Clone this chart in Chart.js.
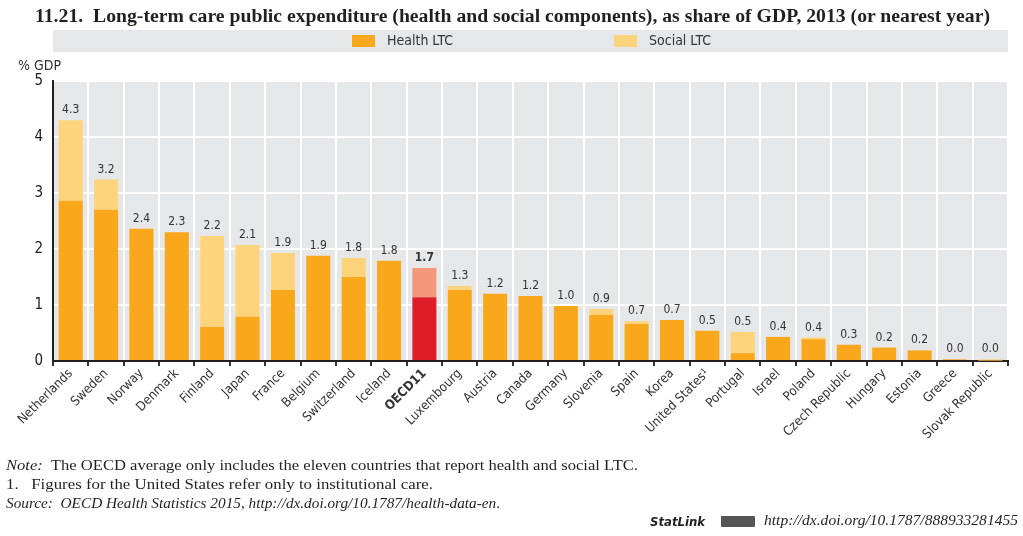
<!DOCTYPE html>
<html><head><meta charset="utf-8">
<script src="https://cdn.jsdelivr.net/npm/chart.js@4/dist/chart.umd.min.js"></script>
<style>
html,body{margin:0;padding:0;background:#fff;}
body{width:1023px;height:536px;position:relative;overflow:hidden;}
#c{position:absolute;left:0;top:0;}
.t{position:absolute;white-space:nowrap;color:#231f20;transform-origin:0 50%;}
#title{left:35px;top:6px;font:bold 18px "Liberation Serif","DejaVu Serif",serif;}
#band{position:absolute;left:53px;top:30px;width:955px;height:22px;background:#e6e7e8;}
.lb{position:absolute;top:35px;width:23px;height:12px;}
.lt{top:32px;font:14px "Liberation Sans Narrow","DejaVu Sans Condensed",sans-serif;color:#333;}
.cond{font-family:"Liberation Sans Narrow","DejaVu Sans Condensed",sans-serif;}
.foot{font:15px "Liberation Serif","DejaVu Serif",serif;left:6px;}
</style></head><body>
<canvas id="c" width="1023" height="536"></canvas>
<div class="t" id="title" data-w="955">11.21.&nbsp; Long-term care public expenditure (health and social components), as share of GDP, 2013 (or nearest year)</div>
<div id="band"></div>
<div class="lb" style="left:352px;background:#f9a71b"></div>
<div class="t lt" style="left:387px">Health LTC</div>
<div class="lb" style="left:614px;background:#fdd47c"></div>
<div class="t lt" style="left:649px">Social LTC</div>
<div class="t cond" style="left:18px;top:57px;font-size:14px;color:#333">% GDP</div>
<div class="t foot" style="top:457px" data-w="632"><i>Note:</i>&nbsp; The OECD average only includes the eleven countries that report health and social LTC.</div>
<div class="t foot" style="top:476px" data-w="427">1.&nbsp;&nbsp; Figures for the United States refer only to institutional care.</div>
<div class="t foot" style="top:495px" data-w="494"><i>Source:</i>&nbsp; <i>OECD Health Statistics 2015</i>, <i>http://dx.doi.org/10.1787/health-data-en</i>.</div>
<div class="t" style="left:650px;top:514px;font:bold italic 13px 'DejaVu Sans Condensed',sans-serif">StatLink</div>
<div style="position:absolute;left:721px;top:516px;width:34px;height:11px;background:#555;border-radius:1px"></div>
<div class="t foot" style="left:764px;top:512px" data-w="254"><i>http://dx.doi.org/10.1787/888933281455</i></div>
<script>
const categories = ["Netherlands","Sweden","Norway","Denmark","Finland","Japan","France","Belgium","Switzerland","Iceland","OECD11","Luxembourg","Austria","Canada","Germany","Slovenia","Spain","Korea","United States\u00b9","Portugal","Israel","Poland","Czech Republic","Hungary","Estonia","Greece","Slovak Republic"];
const healthLTC = [2.86,2.70,2.36,2.30,0.61,0.79,1.27,1.88,1.50,1.79,1.14,1.27,1.20,1.16,0.98,0.82,0.66,0.73,0.54,0.14,0.43,0.39,0.29,0.24,0.19,0.03,0.01];
const socialLTC = [1.44,0.54,0,0,1.62,1.28,0.66,0,0.34,0,0.52,0.07,0,0,0,0.11,0.05,0,0,0.38,0,0.03,0,0,0,0,0.02];
const yTicks = [0,1,2,3,4,5];

const HEALTH='#f9a71b', SOCIAL='#fdd47c', OECD_H='#de1e26', OECD_S='#f4987b';
const isO = i => categories[i]==='OECD11';

// fit text widths horizontally
document.querySelectorAll('[data-w]').forEach(el=>{
  const target=+el.dataset.w; const w=el.getBoundingClientRect().width;
  el.style.transform='scaleX('+(target/w)+')';
});

const labelPlugin={id:'vals',afterDatasetsDraw(chart){
  const ctx=chart.ctx; const m0=chart.getDatasetMeta(0), m1=chart.getDatasetMeta(1);
  ctx.save(); ctx.textAlign='center'; ctx.textBaseline='middle'; ctx.fillStyle='#333';
  categories.forEach((c,i)=>{
    const top=Math.min(m0.data[i].y,m1.data[i].y);
    const v=(healthLTC[i]+socialLTC[i]).toFixed(1);
    ctx.font=(isO(i)?'bold ':'')+'12px "Liberation Sans Narrow","DejaVu Sans Condensed",sans-serif';
    ctx.fillText(v,m0.data[i].x,top-10);
  });
  ctx.restore();
}};
const bgPlugin={id:'bg',beforeDraw(chart){
  const a=chart.chartArea, ctx=chart.ctx; ctx.save(); ctx.fillStyle='#e6e7e8';
  ctx.fillRect(a.left,a.top,a.right-a.left,a.bottom-a.top); ctx.restore();
}};

new Chart(document.getElementById('c'),{
  type:'bar',
  data:{labels:categories,datasets:[
    {label:'Health LTC',data:healthLTC,backgroundColor:categories.map((c,i)=>isO(i)?OECD_H:HEALTH)},
    {label:'Social LTC',data:socialLTC,backgroundColor:categories.map((c,i)=>isO(i)?OECD_S:SOCIAL)}
  ]},
  options:{
    responsive:false,animation:false,
    layout:{padding:{left:0,right:15,top:81,bottom:0}},
    datasets:{bar:{categoryPercentage:1,barPercentage:0.68,borderWidth:0}},
    plugins:{legend:{display:false},tooltip:{enabled:false}},
    scales:{
      x:{stacked:true,
        afterFit(s){s.height=175;},
        grid:{color:'#ffffff',lineWidth:2,offset:true,tickColor:'#333',tickLength:5,drawOnChartArea:true},
        border:{color:'#231f20',width:2},
        ticks:{minRotation:45,maxRotation:45,padding:0,color:'#333',
          font:(ctx)=>({family:'"Liberation Sans Narrow","DejaVu Sans Condensed",sans-serif',size:13,weight:(ctx.tick&&ctx.tick.label==='OECD11')?'bold':'normal'})}
      },
      y:{stacked:true,min:0,max:5,
        afterFit(s){s.width=53;},
        afterBuildTicks(s){s.ticks=yTicks.map(v=>({value:v}));},
        grid:{color:'#ffffff',lineWidth:2,tickLength:0,drawTicks:false},
        border:{color:'#231f20',width:2},
        ticks:{padding:10,color:'#222',font:{family:'"Liberation Sans Narrow","DejaVu Sans Condensed",sans-serif',size:15}}
      }
    }
  },
  plugins:[bgPlugin,labelPlugin]
});
</script>
</body></html>
